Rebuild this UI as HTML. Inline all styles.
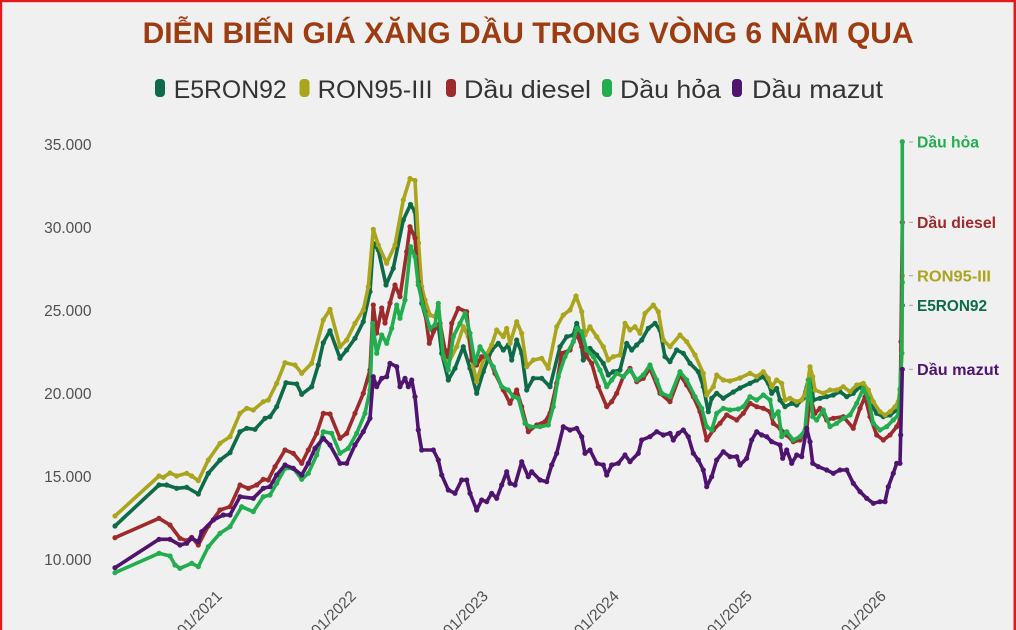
<!DOCTYPE html>
<html>
<head>
<meta charset="utf-8">
<style>
html,body{margin:0;padding:0;background:#f0f0f0;overflow:hidden;}
svg{display:block;}
text{font-family:"Liberation Sans",sans-serif;}
</style>
</head>
<body>
<svg width="1016" height="630" viewBox="0 0 1016 630" xmlns="http://www.w3.org/2000/svg">
<defs>
<marker id="mE" markerUnits="userSpaceOnUse" markerWidth="7" markerHeight="7" refX="3.5" refY="3.5"><circle cx="3.5" cy="3.5" r="2.6" fill="#0e6b47"/></marker>
<marker id="mR" markerUnits="userSpaceOnUse" markerWidth="7" markerHeight="7" refX="3.5" refY="3.5"><circle cx="3.5" cy="3.5" r="2.6" fill="#aaa51c"/></marker>
<marker id="mD" markerUnits="userSpaceOnUse" markerWidth="7" markerHeight="7" refX="3.5" refY="3.5"><circle cx="3.5" cy="3.5" r="2.6" fill="#9e2a2b"/></marker>
<marker id="mH" markerUnits="userSpaceOnUse" markerWidth="7" markerHeight="7" refX="3.5" refY="3.5"><circle cx="3.5" cy="3.5" r="2.6" fill="#22ad4e"/></marker>
<marker id="mM" markerUnits="userSpaceOnUse" markerWidth="7" markerHeight="7" refX="3.5" refY="3.5"><circle cx="3.5" cy="3.5" r="2.6" fill="#4e1470"/></marker>
</defs>
<rect x="0" y="0" width="1016" height="630" fill="#f0f0f0"/>
<!-- border -->
<rect x="0" y="0" width="1016" height="2.2" fill="#e3191c"/>
<rect x="0" y="0" width="2.2" height="630" fill="#e3191c"/>
<rect x="1013.5" y="0" width="2.5" height="630" fill="#e3191c"/>

<!-- title -->
<text x="142.6" y="43" font-size="30" font-weight="bold" fill="#9c3c10" textLength="771" lengthAdjust="spacingAndGlyphs">DIỄN BIẾN GIÁ XĂNG DẦU TRONG VÒNG 6 NĂM QUA</text>

<!-- legend -->
<g font-size="25" fill="#333">
<rect x="155" y="79" width="10" height="18" rx="4" fill="#0e6b47"/>
<text x="173.7" y="98" textLength="113" lengthAdjust="spacingAndGlyphs">E5RON92</text>
<rect x="299.5" y="79" width="10" height="18" rx="4" fill="#aaa51c"/>
<text x="317.6" y="98" textLength="115" lengthAdjust="spacingAndGlyphs">RON95-III</text>
<rect x="446" y="79" width="10" height="18" rx="4" fill="#9e2a2b"/>
<text x="464" y="98" textLength="127" lengthAdjust="spacingAndGlyphs">Dầu diesel</text>
<rect x="602" y="79" width="10" height="18" rx="4" fill="#22ad4e"/>
<text x="620" y="98" textLength="101" lengthAdjust="spacingAndGlyphs">Dầu hỏa</text>
<rect x="732" y="79" width="10" height="18" rx="4" fill="#4e1470"/>
<text x="752" y="98" textLength="131" lengthAdjust="spacingAndGlyphs">Dầu mazut</text>
</g>

<!-- y axis labels -->
<g font-size="15.5" fill="#505050" text-anchor="end">
<text x="91.5" y="150">35.000</text>
<text x="91.5" y="233">30.000</text>
<text x="91.5" y="316">25.000</text>
<text x="91.5" y="399">20.000</text>
<text x="91.5" y="482">15.000</text>
<text x="91.5" y="565">10.000</text>
</g>

<!-- x axis labels -->
<g font-size="15.5" fill="#505050" text-anchor="end">
<text transform="translate(223,597) rotate(-45)">01/2021</text>
<text transform="translate(357,597) rotate(-45)">01/2022</text>
<text transform="translate(489,597) rotate(-45)">01/2023</text>
<text transform="translate(620,597) rotate(-45)">01/2024</text>
<text transform="translate(753,597) rotate(-45)">01/2025</text>
<text transform="translate(887,597) rotate(-45)">01/2026</text>
</g>

<g fill="none" stroke-width="3.6" stroke-linejoin="round" stroke-linecap="round">
<!-- E5RON92 -->
<polyline stroke="#0e6b47" marker-start="url(#mE)" marker-mid="url(#mE)" marker-end="url(#mE)" points="115,526 159,485 166.7,485 176.7,488.3 186.7,487.3 198.3,494 208.3,473.3 220,460 230,452.7 240,431.7 246.7,428.3 255,429.3 265,418.3 270,416.7 276.7,406.7 286,382.7 296.7,384 301.7,394.3 311.7,386.7 318.3,365 323.3,342.7 330,330.7 340,358.3 346.7,350 355,338.3 363.3,321.7 370,291.7 373.3,243.3 378.3,250 386,285 393.3,268.3 403.3,220 410.5,204.5 415,211.7 418.3,263.3 421.7,303.3 428.3,326.7 433.3,331.7 438.3,325 441.7,353.3 448.3,380 455,368.3 463.3,346.7 470,368.3 476.7,393.3 483.3,371.7 491.7,350 498.3,343.3 503.3,350 508.3,345 511.7,360 516.7,340 521.7,353.3 526.7,390 533.3,378.3 541.7,378.3 550,386.7 560,346.7 566.7,336.7 573.3,335 576.7,323.3 580,333.3 583.3,360 590,348.3 596.7,355 603.3,363.3 608.3,375 613.3,371.7 620,370 626.7,343.3 631.7,350 636.7,345 641.7,340 648.3,328.3 655,323.3 660,330 665,356.7 670,361.7 676.7,350 683.3,353.3 690,363.3 698.3,371.7 703.3,386.7 708.3,411.7 711.7,398.3 716.7,393.3 723.3,398.3 733.3,392 740,388 750,383.3 756.7,380 763.3,376.7 768.3,383.3 771.7,393.3 776.7,388.3 780,400 785,406.7 791.7,403.3 796.7,405 803.3,398.3 808.3,380 810.7,373.3 813.3,400 820,398.3 826.7,396.7 833.3,395 840,391.7 846.7,396.7 853.3,393.3 860,386.7 865,391.7 870,403.3 876.7,413.3 883.3,416.7 890,415 896.7,410 900,403.3 902.3,305.3"/>
<!-- RON95-III -->
<polyline stroke="#aaa51c" marker-start="url(#mR)" marker-mid="url(#mR)" marker-end="url(#mR)" points="115,516 159,476 163.3,477.3 170,473 176.7,476 186.7,473.3 191.7,476 198.3,480.7 208.3,460 220,443.3 230,436.7 240,413.3 246.7,408.3 253.3,410 263.3,401.7 268.3,400 276.7,383.3 285,362.7 295,365 301.7,373.3 311.7,363.3 323.3,320 330,309.3 340,346.7 346.7,340 355,323.3 363.3,310 368.3,286.7 373.3,229.3 378.3,245 386.7,263.3 395,245 403.3,200 410,178.5 415,180.5 418.5,243 421.7,286.7 425,300 430,315 435,316.7 438.3,306.7 443.3,346.7 448.3,363.3 456.7,346.7 463.3,326.7 468.3,336.7 473.3,366.7 476.7,381.7 483.3,360 491.7,345 496.7,330 503.3,336.7 506.7,328.3 510,343.3 516.7,321.7 521.7,333.3 526.7,366.7 533.3,360 541.7,358.3 548.3,368.3 556.7,326.7 563.3,315 570,310 576,296 581.7,311.7 585,335 590,326.7 596.7,336.7 603.3,346.7 608.3,360 613.3,356.7 620,355 625,323.3 630,330 635,326.7 640,333.3 645,313.3 653.3,305 658.3,311.7 663.3,340 670,346.7 680,335 686.7,341.7 695,355 703.3,373.3 706.7,395 713.3,386.7 716.7,375 723.3,380 730,381 740,378 750,373.3 756.7,376.7 763.3,371.7 768.3,378.3 771.7,386.7 776.7,380 781.7,383.3 785,400 790,398.3 796.7,401.7 801.7,400 806.7,390 810,366.7 812.7,376.7 815,390 823.3,393.3 830,390 836.7,390 843.3,386.7 850,391.7 856.7,385 863.3,383.3 868.3,390 873.3,401.7 880,411.7 885,415 890,411.7 895,406.7 898.3,401.7 900,389 902,353 902.3,275.7"/>
<!-- Dau diesel -->
<polyline stroke="#9e2a2b" marker-start="url(#mD)" marker-mid="url(#mD)" marker-end="url(#mD)" points="115,537.7 159,518.3 170,525 180,538.3 186.7,540.7 191.7,537.3 198.3,545 208.3,526 220,510 230,506.7 240,485 248.3,488.3 256.7,485 263.3,479.3 268.3,480 275,466.7 285,450 293.3,453.3 301.7,463.3 308.3,450 316.7,433.3 323.3,413.3 330,414 340,438.3 346.7,433.3 355,413.3 363.3,393.3 370,370 373.3,305 376.7,333 381.7,308 385,323 390,303 395,285 400,296.7 406.7,251.7 410,226.7 415,238 418.3,281.7 425,311.7 429.3,343.3 435,328.3 440,323.3 445,350 448.3,356.7 451.7,323.3 458.3,308.3 466.7,311.7 471.7,360 476.7,365 481.7,356.7 488.3,356.7 495,373.3 503.3,390 510,403.3 516.7,390 521.7,406.7 528.3,431.7 536.7,425 545,421.7 550,413.3 556.7,383.3 561.7,353.3 570,350 576.7,333.3 581.7,346.7 586.7,356.7 591.7,363.3 598.3,386.7 606.7,406.7 611.7,401.7 616.7,393.3 623.3,376.7 630,368.3 636.7,381.7 643.3,378.3 650,368.3 660,393.3 670,401.7 680,375 686.7,385 693.3,396.7 700,411.7 706.7,440 713.3,430 720,423.3 726.7,415 736.7,420 743.3,413.3 750,403.3 756.7,406.7 763.3,408.3 770,411.7 773.3,423.3 780,428.3 786.7,435 793.3,441.7 800,440 806.7,430 810,396.7 815,413.3 820,408.3 826.7,420 833.3,418.3 843.3,416.7 853.3,428.3 860,408.3 865,396.7 870,416.7 876.7,435 883.3,440 890,435 896.7,426.7 900,420 901,341.7 902.3,222.3"/>
<!-- Dau hoa -->
<polyline stroke="#22ad4e" marker-start="url(#mH)" marker-mid="url(#mH)" marker-end="url(#mH)" points="115,572.7 159,553.3 170,556 175,565 180,568.3 191.7,563.3 198.3,566.7 208.3,546.7 220,533.3 230,526.7 241.7,506.7 253.3,511.7 263.3,496.7 270,495 276.7,483.3 285,468.3 293.3,468.3 301.7,479.3 308.3,473.3 316.7,455 323.3,431.7 331.7,433.3 340,453.3 348.3,448.3 356.7,433.3 365,413.3 370,390 372.7,323.3 376.7,353.3 381.7,335 386.7,343.3 391.7,328.3 396.7,305 400,318.3 405,300 410.7,246.7 415,256.7 418.3,285 423.3,306.7 430,328.3 435,325 438.3,303.3 443.3,356.7 448.3,370 453.3,336.7 460,323.3 465,313.3 470,333.3 475,363.3 480,346.7 486.7,356.7 493.3,366.7 501.7,386.7 508.3,390 513.3,396.7 518.3,398.3 525,423.3 530,426.7 540,426.7 548.3,425 553.3,406.7 558.3,376.7 565,356.7 573.3,341.7 576.7,328.3 581.7,331.7 586.7,350 593.3,356.7 600,370 606.7,386.7 611.7,380 616.7,373.3 623.3,376.7 630,370 636.7,380 643.3,375 650,365 656.7,380 661.7,393.3 670,396.7 680,371.7 686.7,380 695,396.7 701.7,408.3 706.7,426.7 711.7,430 716.7,413.3 723.3,408.3 730,410 738.3,409 743.3,406.7 750,396.7 756.7,400 763.3,395 770,400 773.3,416.7 778.3,411.7 781.7,436.7 786.7,431.7 793.3,440 800,436.7 805,430 809.3,380 812.7,416.7 816.7,420 823.3,410 830,426.7 836.7,423.3 843.3,418.3 850,415 856.7,403.3 863.3,388.3 868.3,398.3 873.3,423.3 880,430 886.7,426.7 893.3,420 898.3,415 900,390 901.7,353.3 902.3,282.3 902.3,141.7"/>
<!-- Dau mazut -->
<polyline stroke="#4e1470" marker-start="url(#mM)" marker-mid="url(#mM)" marker-end="url(#mM)" points="115,567.7 159,539.3 170,539.3 180,545 186.7,543.3 191.7,538.3 198.3,541.7 201.7,531.7 213.3,520 223.3,515 230,515 240,496.7 253.3,498.3 263.3,488.3 270,486.7 276.7,475 285,465 293.3,468.3 301.7,475 308.3,463.3 315,448.3 323.3,438.3 330,445 340,463.3 346.7,463.3 355,445 363.3,431.7 370,418.3 373.3,376.7 376.7,386.7 381.7,378.3 386.7,376.7 390,363.3 396.7,366.7 400,386.7 405,378.3 408.3,386.7 411.7,380 415,396.7 418.3,430 421.7,450 433.3,450 438.3,460 441.7,475 448.3,490 455,493.3 461.7,480 466.7,480 470,493.3 476.7,510 481.7,500 486.7,501.7 491.7,493.3 496.7,498.3 501.7,485 506.7,471.7 510,483.3 515,485 521.7,461.7 528.3,476.7 531.7,471.7 540,480 546.7,481.7 551.7,465 556.7,453.3 563.3,426.7 570,430 576.7,428.3 581.7,436.7 585,453.3 590,450 596.7,463.3 603.3,465 606.7,475 611.7,465 618.3,463.3 625,455 630,461.7 638.3,453.3 641.7,440 650,436.7 656.7,431.7 663.3,435 670,433.3 673.3,440 678.3,433.3 683.3,430 688.3,436.7 693.3,453.3 698.3,460 703.3,470 706.7,486.7 711.7,476.7 716.7,460 723.3,451.7 730,456.7 736.7,456.7 740,465 746.7,458.3 751.7,440 756.7,431.7 761.7,435 766.7,436.7 771.7,441.7 780,445 782.7,458.3 786.7,450 791.7,463.3 796.7,455 801.7,456.7 806.7,428.3 810,441.7 812.7,463.3 818.3,466.7 826.7,470 833.3,473.3 840,470 846.7,470 853.3,483.3 860,491.7 866.7,498.3 873.3,503.3 880,501.7 885,501.7 888.3,486.7 893.3,473.3 896.7,463.3 900,463.3 900.7,435 902.3,369.3"/>
</g>

<!-- end labels -->
<g stroke="#a0a0a0" stroke-width="1">
<line x1="909" y1="142" x2="913" y2="142"/>
<line x1="909" y1="222.3" x2="913" y2="222.3"/>
<line x1="909" y1="275.7" x2="913" y2="275.7"/>
<line x1="909" y1="305.3" x2="913" y2="305.3"/>
<line x1="909" y1="369.3" x2="913" y2="369.3"/>
</g>
<g font-size="15.5" font-weight="bold">
<text x="917" y="147.5" fill="#22ad4e" textLength="62" lengthAdjust="spacingAndGlyphs">Dầu hỏa</text>
<text x="917" y="228" fill="#9e2a2b" textLength="79" lengthAdjust="spacingAndGlyphs">Dầu diesel</text>
<text x="917" y="281.3" fill="#aaa51c" textLength="74" lengthAdjust="spacingAndGlyphs">RON95-III</text>
<text x="917" y="311" fill="#0e6b47" textLength="70" lengthAdjust="spacingAndGlyphs">E5RON92</text>
<text x="917" y="375" fill="#4e1470" textLength="82" lengthAdjust="spacingAndGlyphs">Dầu mazut</text>
</g>
</svg>
</body>
</html>
